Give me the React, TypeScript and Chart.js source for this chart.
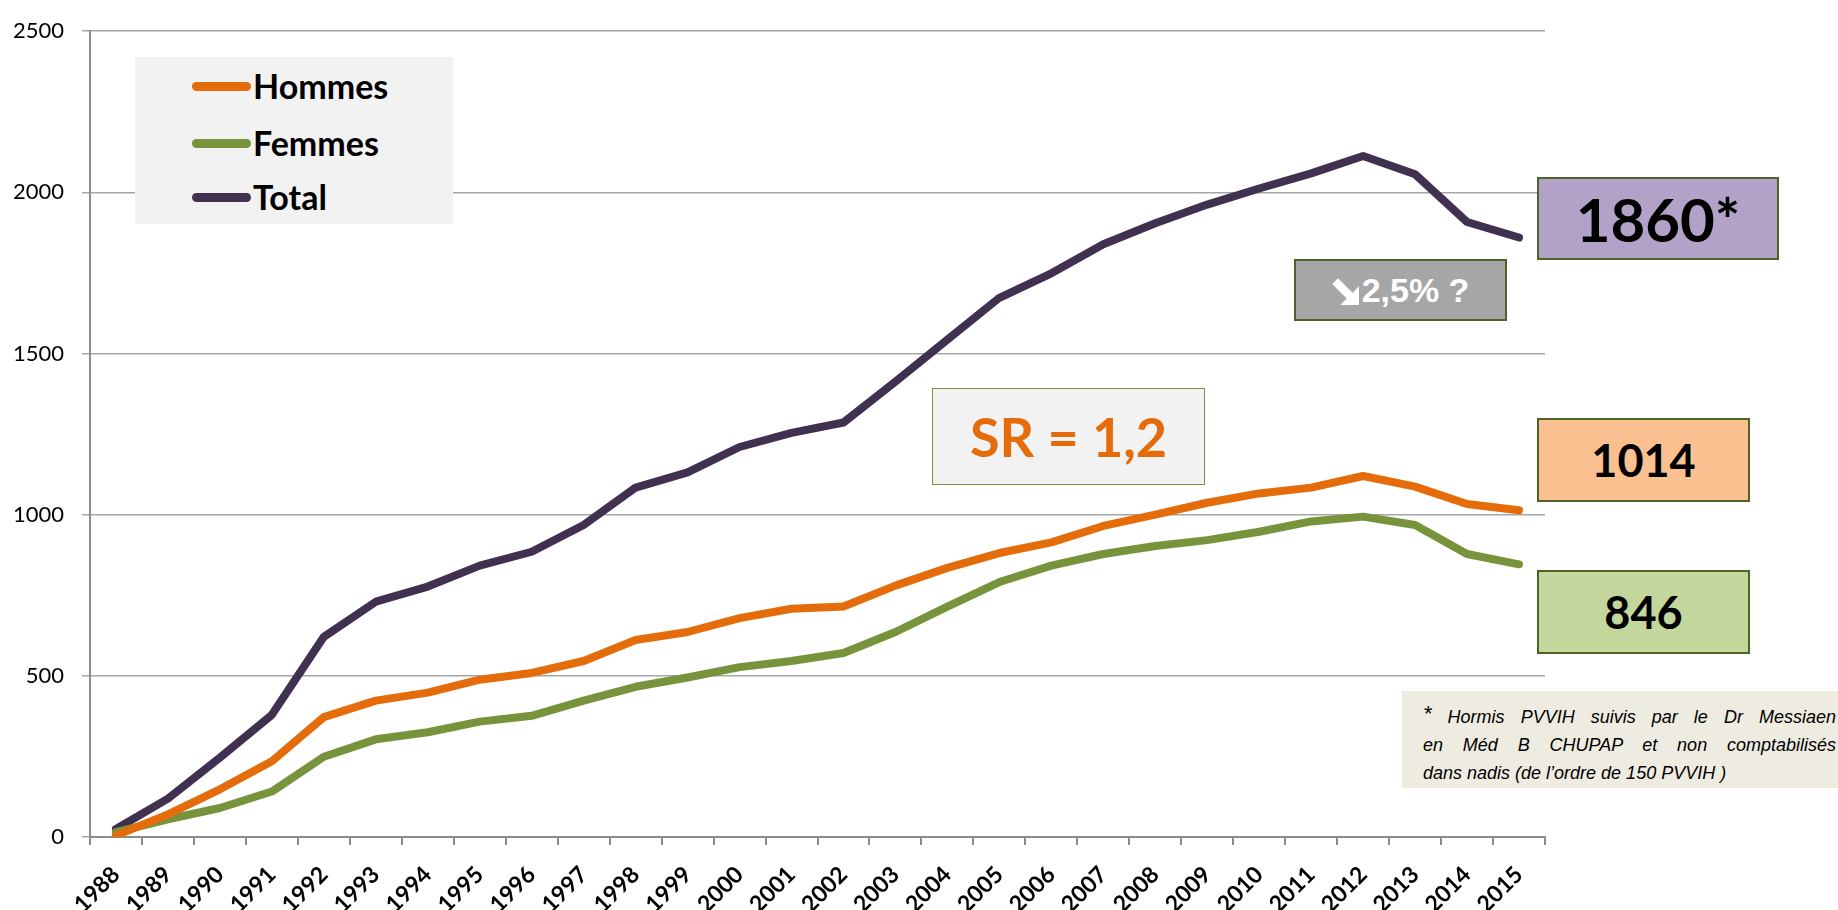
import React, { useEffect, useRef } from "react";
import { Chart, registerables } from "chart.js";

Chart.register(...registerables);

const years = [
  "1988", "1989", "1990", "1991", "1992", "1993", "1994", "1995", "1996", "1997",
  "1998", "1999", "2000", "2001", "2002", "2003", "2004", "2005", "2006", "2007",
  "2008", "2009", "2010", "2011", "2012", "2013", "2014", "2015",
];

const hommes = [
  5, 70, 148, 235, 372, 423, 448, 488, 509, 546,
  611, 636, 679, 708, 715, 780, 835, 881, 914, 965,
  1000, 1037, 1066, 1084, 1120, 1087, 1033, 1014,
];

const femmes = [
  15, 55, 90, 141, 249, 303, 325, 358, 376, 423,
  466, 495, 527, 546, 571, 636, 715, 791, 842, 878,
  903, 921, 947, 979, 994, 968, 878, 846,
];

const total = [
  25, 119, 246, 379, 621, 730, 777, 842, 885, 968,
  1084, 1131, 1210, 1254, 1286, 1413, 1543, 1673, 1749, 1839,
  1904, 1962, 2012, 2059, 2113, 2056, 1908, 1860,
];

const yTicks = [0, 500, 1000, 1500, 2000, 2500];

const seriesNames = ["Hommes", "Femmes", "Total"];
const seriesColors = ["#E46C0A", "#77933C", "#403151"];

const W = 1838;
const H = 910;

export default function App() {
  const ref = useRef<HTMLCanvasElement | null>(null);

  useEffect(() => {
    if (!ref.current) return;
    const values = [hommes, femmes, total];
    const chart = new Chart(ref.current, {
      type: "line",
      data: {
        labels: years,
        datasets: seriesNames.map((name, i) => ({
          label: name,
          data: values[i],
          borderColor: seriesColors[i],
          backgroundColor: seriesColors[i],
          borderWidth: 8,
          pointRadius: 0,
          tension: 0,
          borderCapStyle: "round" as const,
          borderJoinStyle: "round" as const,
        })),
      },
      options: {
        animation: false,
        responsive: false,
        maintainAspectRatio: false,
        layout: { padding: { left: 0, top: 25, right: 293, bottom: 0 } },
        plugins: {
          legend: { display: false },
          tooltip: { enabled: false },
        },
        scales: {
          x: {
            type: "category",
            offset: true,
            grid: {
              offset: true,
              drawOnChartArea: false,
              drawTicks: true,
              tickLength: 8,
              color: "#8c8c8c",
              lineWidth: 2,
            },
            border: { color: "#8c8c8c", width: 2 },
            ticks: {
              minRotation: 45,
              maxRotation: 45,
              autoSkip: false,
              padding: 16,
              color: "#000",
              font: { family: "Lato, 'Liberation Sans', sans-serif", size: 23, weight: "bold" },
            },
            afterFit: (scale: any) => {
              scale.height = 73;
            },
          },
          y: {
            min: 0,
            max: 2500,
            afterBuildTicks: (scale: any) => {
              scale.ticks = yTicks.map((v) => ({ value: v }));
            },
            grid: {
              color: "#a6a6a6",
              lineWidth: 1.5,
              drawTicks: true,
              tickLength: 8,
            },
            border: { color: "#8c8c8c", width: 2 },
            ticks: {
              padding: 18,
              color: "#000",
              font: { family: "Lato, 'Liberation Sans', sans-serif", size: 22 },
              callback: (v: any) => String(v),
            },
            afterFit: (scale: any) => {
              scale.width = 90;
            },
          },
        },
      },
    });
    return () => chart.destroy();
  }, []);

  const boxBase: React.CSSProperties = {
    position: "absolute",
    boxSizing: "border-box",
    display: "flex",
    alignItems: "center",
    justifyContent: "center",
    fontFamily: "Lato, 'Liberation Sans', sans-serif",
    fontWeight: "bold",
    color: "#000",
  };

  const legendRows = [86, 143, 197];

  return (
    <div style={{ position: "absolute", left: 0, top: 0, width: W, height: H, background: "#fff", overflow: "hidden" }}>
      <canvas ref={ref} width={W} height={H} style={{ position: "absolute", left: 0, top: 0, width: W, height: H }} />

      {/* Legend */}
      <div style={{ position: "absolute", left: 135, top: 57, width: 318, height: 167, background: "#f2f2f2" }} />
      {seriesNames.map((name, i) => (
        <React.Fragment key={name}>
          <div
            style={{
              position: "absolute",
              left: 192,
              top: legendRows[i] - 4,
              width: 59,
              height: 9,
              borderRadius: 5,
              background: seriesColors[i],
            }}
          />
          <div
            style={{
              position: "absolute",
              left: 253,
              top: legendRows[i] - 22,
              height: 44,
              lineHeight: "44px",
              fontFamily: "Lato, 'Liberation Sans', sans-serif",
              fontWeight: "bold",
              fontSize: 34,
              color: "#000",
              whiteSpace: "nowrap",
            }}
          >
            {name}
          </div>
        </React.Fragment>
      ))}

      {/* 1860* */}
      <div style={{ ...boxBase, left: 1537, top: 177, width: 242, height: 83, background: "#b3a2c7", border: "2px solid #4f6228", fontSize: 60 }}>
        1860*
      </div>

      {/* 2,5% ? */}
      <div
        style={{
          ...boxBase,
          left: 1294,
          top: 259,
          width: 213,
          height: 62,
          background: "#a6a6a6",
          border: "2px solid #4f6228",
          color: "#fff",
          fontFamily: "'Liberation Sans', Arial, sans-serif",
          fontSize: 34,
        }}
      >
        <svg width="28" height="28" viewBox="0 0 27 27" style={{ marginRight: 2, marginTop: 4 }}>
          <polygon points="26,26 26,8 19.8,14.2 5.8,0.2 0.2,5.8 14.2,19.8 8,26" fill="#fff" />
        </svg>
        2,5% ?
      </div>

      {/* 1014 */}
      <div style={{ ...boxBase, left: 1537, top: 418, width: 213, height: 84, background: "#fac090", border: "2px solid #4f6228", fontSize: 45 }}>
        1014
      </div>

      {/* 846 */}
      <div style={{ ...boxBase, left: 1537, top: 570, width: 213, height: 84, background: "#c3d69b", border: "2px solid #4f6228", fontSize: 45 }}>
        846
      </div>

      {/* SR = 1,2 */}
      <div
        style={{
          ...boxBase,
          left: 932,
          top: 388,
          width: 273,
          height: 97,
          background: "#f2f2f2",
          border: "1.5px solid #77933C",
          color: "#E46C0A",
          fontSize: 54,
          paddingLeft: 37,
          justifyContent: "flex-start",
        }}
      >
        SR = 1,2
      </div>

      {/* Footnote */}
      <div style={{ position: "absolute", left: 1402, top: 691, width: 436, height: 97, background: "#eeece1" }} />
      <div
        style={{
          position: "absolute",
          left: 1423,
          top: 702,
          width: 413,
          fontFamily: "'Liberation Sans', Arial, sans-serif",
          fontStyle: "italic",
          fontSize: 18,
          lineHeight: "28px",
          color: "#000",
        }}
      >
        <div style={{ textAlign: "justify", textAlignLast: "justify" }}>
          <span style={{ fontSize: 22, position: "relative", top: -2 }}>*</span> Hormis PVVIH suivis par le Dr Messiaen
        </div>
        <div style={{ textAlign: "justify", textAlignLast: "justify" }}>en Méd B CHUPAP et non comptabilisés</div>
        <div style={{ textAlign: "left" }}>dans nadis (de l’ordre de 150 PVVIH )</div>
      </div>
    </div>
  );
}
